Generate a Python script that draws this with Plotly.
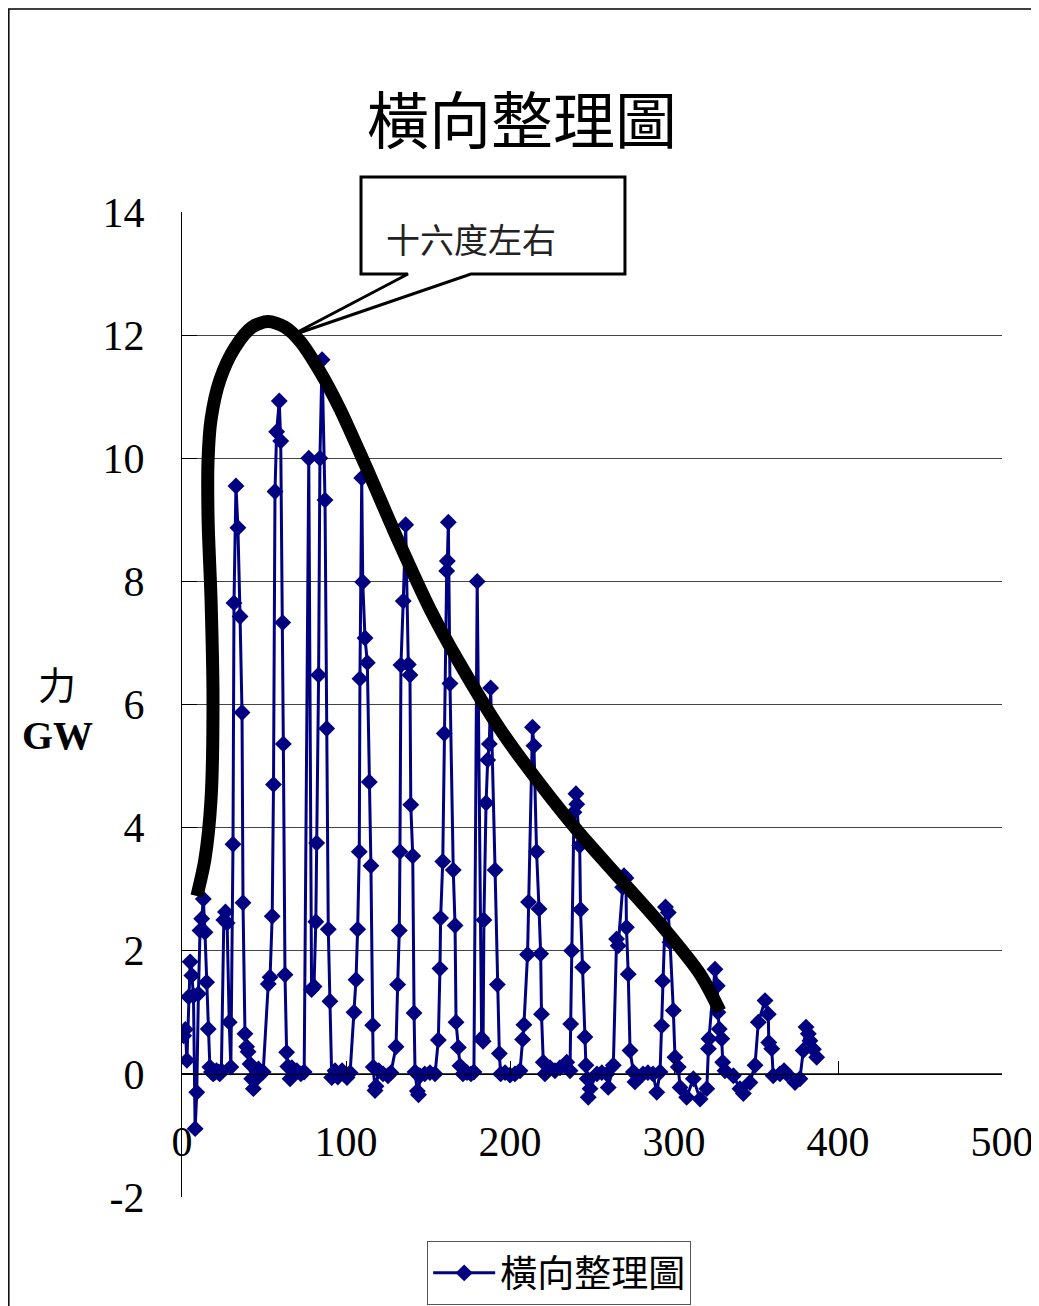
import plotly.graph_objects as go

# ---------------- data ----------------
days = [
    1, 2, 3, 4, 5, 6, 7, 8, 9, 10, 11, 12, 13, 14, 15, 16, 17, 18, 19, 20, 21, 22, 23, 24,
    25.5, 26.5, 27.5, 28.8, 29.8,
    31.1, 31.7, 32.9, 34.1, 35.4, 36.6, 37.2, 38.4, 39.4, 40.3, 41.5, 42.5, 43.5, 44.5, 45.5, 46.6, 47.6, 49.5,
    52.6, 53.7, 55.0, 55.8, 56.7, 57.7, 59.3, 60.2, 61.4, 61.8, 62.8, 63.8, 64.5, 65.9, 67.0, 68.5, 70.0, 72.5, 74.5,
    77.3, 79.0, 80.5, 81.6, 82.1, 83.3, 84.1, 85.4, 87.2, 88.2, 89.2, 90.2, 91.3, 93.3, 95.0, 97.6, 99.4, 100.6, 102.5,
    104.9, 106.1, 107.1, 108.1, 108.5, 109.6, 110.2, 111.6, 113.0, 114.2, 115.2, 116.3, 116.6, 117.7, 118.3, 120.0, 122.6, 125.6, 127.4,
    130.5, 131.5, 132.5, 132.9, 133.5, 134.9, 136.4, 138.0, 139.0, 139.5, 140.7, 141.5, 142.1, 143.5, 144.2, 145.1, 148.0, 151.2, 154.3,
    156.3, 157.3, 157.7, 159.0, 159.9, 161.4, 161.8, 162.4, 163.4, 165.4, 166.5, 167.1, 168.5, 169.5, 171.3, 173.8, 176.2, 178.0,
    180.0, 182.7, 183.6,
    184.1, 185.4, 186.4, 187.4, 188.2, 190.9, 192.3, 193.5, 194.3, 197.0, 200.0, 203.0, 206.1,
    207.7, 208.5, 210.7, 211.3, 213.7, 214.6, 216.2, 217.7, 218.7, 219.2, 220.3, 221.3, 224.4, 227.4, 230.5, 234.6, 236.6,
    237.0, 237.6, 239.0, 240.2, 240.7, 242.5, 243.0, 244.3, 245.7, 246.3, 247.1, 247.7, 248.8, 253.0, 256.0, 259.1, 259.9, 263.0,
    265.0, 266.0, 268.7, 269.5, 270.7, 271.0, 272.1, 273.2, 275.2, 276.2, 281.1, 284.1, 287.2, 289.5, 291.5,
    292.5, 293.1, 294.8, 296.5, 297.6, 299.6, 300.6, 302.6, 303.7, 307.7, 311.8, 315.9, 320.0, 321.0, 321.3,
    325.0, 326.4, 326.8, 327.6, 329.1, 329.7, 331.1, 336.2, 340.2, 342.3, 346.3, 349.4, 351.4,
    355.5, 357.5, 357.8, 359.6, 360.5, 364.6, 367.1, 368.9, 373.8, 376.8,
    378.8, 380.5, 381.9, 382.9, 385.0, 387.0,
]
power_gw = [
    0.62, 0.72, 0.22, 1.25, 1.82, 1.6, 1.27, -0.89, -0.3, 1.3, 2.33, 2.52, 2.84, 2.3, 1.49, 0.73, 0.11, 0.03, 0.0, 0.02, 0.05, 0.03, 0.0, 0.05,
    2.5, 2.63, 2.45, 0.84, 0.11,
    3.73, 7.65, 9.55, 8.87, 7.43, 5.87, 2.78, 0.65, 0.44, 0.36, 0.16, -0.08, -0.24, -0.1, 0.05, 0.08, 0.0, 0.03,
    1.46, 1.57, 2.56, 4.7, 9.46, 10.43, 10.93, 10.28, 7.33, 5.36, 1.61, 0.35, 0.12, -0.08, 0.1, 0.02, 0.05, 0.0, 0.03,
    10.0, 1.37, 1.42, 2.47, 3.75, 6.48, 10.0, 11.6, 9.32, 5.61, 2.35, 1.18, -0.06, 0.05, -0.05, 0.05, -0.02, -0.06, 0.02,
    1.0, 1.53, 2.35, 3.61, 6.42, 9.68, 7.99, 7.08, 6.68, 4.74, 3.38, 0.79, 0.11, -0.27, -0.2, 0.05, 0.0, -0.03, 0.02,
    0.44, 1.45, 2.33, 3.61, 6.64, 7.68, 8.92, 6.65, 6.48, 4.37, 3.54, 0.99, 0.03, -0.28, -0.34, -0.03, 0.0, 0.02, 0.0,
    0.55, 1.71, 2.53, 3.45, 5.53, 8.17, 8.33, 8.96, 6.34, 3.31, 2.41, 0.84, 0.43, 0.13, 0.0, 0.02, 0.0, 0.03,
    8.0, 0.58, 0.53,
    2.5, 4.4, 5.1, 5.36, 6.27, 3.31, 1.45, 0.33, 0.0, 0.02, -0.02, 0.0, 0.05,
    0.56, 0.8, 1.94, 2.79, 5.63, 5.33, 3.61, 2.68, 1.95, 0.97, 0.19, 0.0, 0.1, 0.05, 0.1, 0.19, 0.05,
    0.81, 2.0, 4.25, 4.55, 4.38, 3.71, 2.67, 1.73, 0.6, 0.14, -0.08, -0.38, -0.24, 0.0, 0.02, 0.0, -0.22, 0.14,
    2.19, 2.08, 3.03, 3.22, 3.18, 2.38, 1.62, 0.38, 0.03, -0.13, 0.0, 0.02, 0.0, -0.3, 0.03,
    0.78, 1.51, 2.71, 2.62, 2.14, 1.03, 0.27, 0.11, -0.22, -0.38, -0.08, -0.41, -0.24, 0.41, 0.57,
    1.70, 1.43, 1.0, 0.73, 0.57, 0.19, 0.05, -0.03, -0.24, -0.32, -0.14, 0.14, 0.84,
    1.19, 0.97, 0.51, 0.41, -0.03, 0.0, 0.05, 0.0, -0.14, -0.08,
    0.38, 0.76, 0.65, 0.54, 0.4, 0.27,
]

# hand-drawn envelope curve (annotation drawing), in data units
envelope_x = [9.1, 14.0, 17.7, 18.9, 17.7, 15.9, 15.9, 17.7, 23.2, 32.3, 42.7, 52.4, 62.8, 72.0, 84.1,
              96.3, 111.6, 132.9, 151.2, 169.5, 193.9, 218.3, 242.7, 267.1, 291.5, 315.9, 328.0]
envelope_y = [2.89, 3.49, 4.46, 6.09, 7.71, 9.01, 9.98, 10.63, 11.28, 11.80, 12.13, 12.22, 12.13, 11.90, 11.41,
              10.80, 9.90, 8.60, 7.55, 6.66, 5.60, 4.71, 3.90, 3.17, 2.44, 1.62, 1.02]

x_ticks = [0, 100, 200, 300, 400, 500]
y_ticks = [-2, 0, 2, 4, 6, 8, 10, 12, 14]

title_text = "橫向整理圖"
series_name = "橫向整理圖"
callout_text = "十六度左右"

CJK = "Noto Sans CJK TC, Noto Sans CJK JP, sans-serif"
SERIF = "Liberation Serif, DejaVu Serif, serif"
NAVY = "#000080"

fig = go.Figure()

fig.add_trace(go.Scatter(
    x=days, y=power_gw, mode="lines+markers", name=series_name,
    line=dict(color=NAVY, width=3),
    marker=dict(symbol="diamond", size=13, color=NAVY),
))

fig.add_trace(go.Scatter(
    x=envelope_x, y=envelope_y, mode="lines", showlegend=False, hoverinfo="skip",
    line=dict(color="black", width=13, shape="spline", smoothing=0.8),
))

# callout box with pointer (paper coordinates so it is not clipped)
bx0, bx1, by0, by1 = 0.2183, 0.5402, 0.9371, 1.0355
px0, px1, tipx, tipy = 0.2756, 0.3524, 0.1317, 0.8741
path = (f"M {bx0},{by1} L {bx1},{by1} L {bx1},{by0} L {px1},{by0} "
        f"L {tipx},{tipy} L {px0},{by0} L {bx0},{by0} Z")
fig.add_shape(type="path", path=path, xref="paper", yref="paper",
              line=dict(color="black", width=3), fillcolor="white", layer="above")
fig.add_annotation(x=0.2466, y=0.9736, xref="paper", yref="paper", text=callout_text,
                   showarrow=False, xanchor="left", yanchor="middle",
                   font=dict(family=CJK, size=34, color="#222"))

# outer frame
fig.add_shape(type="rect", xref="paper", yref="paper",
              x0=-0.2112, x1=1.06, y0=-0.12, y1=1.2060,
              line=dict(color="black", width=1.5), fillcolor="rgba(0,0,0,0)", layer="below")

# y-axis title
fig.add_annotation(x=-0.152, y=0.522, xref="paper", yref="paper",
                   text="力", showarrow=False, xanchor="center", yanchor="middle",
                   font=dict(family=CJK, size=38, color="black"))
fig.add_annotation(x=-0.152, y=0.469, xref="paper", yref="paper",
                   text="<b>GW</b>", showarrow=False, xanchor="center", yanchor="middle",
                   font=dict(family=SERIF, size=40, color="black"))

fig.update_layout(
    width=1039, height=1306,
    paper_bgcolor="white", plot_bgcolor="white",
    margin=dict(l=174, r=45, t=204, b=117, autoexpand=False),
    title=dict(text=title_text, x=0.4146, xref="paper", xanchor="center",
               y=1 - 114 / 1306, yref="container", yanchor="middle",
               font=dict(family=CJK, size=62, color="black")),
    showlegend=True,
    legend=dict(x=0.299, y=-0.045, xanchor="left", yanchor="top",
                bordercolor="#555", borderwidth=1, bgcolor="white",
                font=dict(family=CJK, size=37, color="black"),
                itemwidth=62),
    xaxis=dict(range=[0, 500], tickvals=x_ticks, ticktext=[str(v) for v in x_ticks],
               anchor="free", position=0.125, automargin=False,
               showline=True, linecolor="black", linewidth=1,
               ticks="inside", ticklen=13, tickcolor="black",
               showgrid=False, zeroline=False,
               ticklabelstandoff=31,
               tickfont=dict(family=SERIF, size=42, color="black")),
    yaxis=dict(range=[-2, 14], tickvals=y_ticks, ticktext=[str(v) for v in y_ticks],
               automargin=False,
               showline=True, linecolor="black", linewidth=1,
               ticks="inside", ticklen=15, tickcolor="black",
               showgrid=True, gridcolor="#444", gridwidth=1, zeroline=False,
               ticklabelstandoff=28,
               tickfont=dict(family=SERIF, size=42, color="black")),
)

fig.write_html("out.html")
